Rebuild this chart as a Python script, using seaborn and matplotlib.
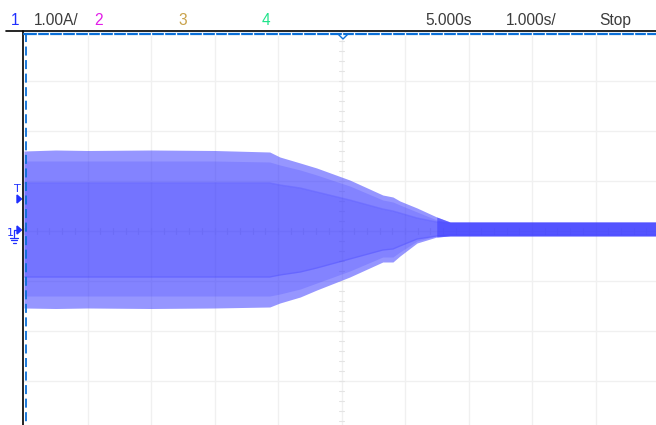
import matplotlib
matplotlib.use("Agg")
import matplotlib.pyplot as plt
from matplotlib.lines import Line2D
from matplotlib.patches import Polygon
import numpy as np
import pandas as pd
import seaborn as sns

# Channel 1 current envelope (A) vs time (s), 1.00 A/div, 1.000 s/div
time_s = [0.00, 0.50, 1.00, 2.00, 3.00, 3.87, 4.03, 4.35, 4.61, 5.13, 5.65, 5.81, 5.92, 6.19, 6.50, 6.71, 7.50, 8.50, 10.0]
outer_hi = [1.60, 1.62, 1.61, 1.62, 1.61, 1.58, 1.48, 1.36, 1.26, 1.02, 0.72, 0.68, 0.60, 0.46, 0.28, 0.18, 0.18, 0.18, 0.18]
outer_lo = [-1.54, -1.55, -1.54, -1.55, -1.54, -1.52, -1.44, -1.32, -1.18, -0.92, -0.62, -0.62, -0.50, -0.24, -0.12, -0.10, -0.10, -0.10, -0.10]
mid_hi = [1.40, 1.40, 1.40, 1.40, 1.40, 1.38, 1.32, 1.22, 1.12, 0.90, 0.62, 0.58, 0.52, 0.38, 0.22, 0.17, 0.17, 0.17, 0.17]
mid_lo = [-1.30, -1.30, -1.30, -1.30, -1.30, -1.30, -1.26, -1.16, -1.04, -0.80, -0.52, -0.52, -0.42, -0.20, -0.10, -0.09, -0.09, -0.09, -0.09]
inner_hi = [0.96, 0.96, 0.96, 0.96, 0.96, 0.96, 0.92, 0.86, 0.78, 0.62, 0.44, 0.40, 0.36, 0.26, 0.18, 0.16, 0.16, 0.16, 0.16]
inner_lo = [-0.92, -0.92, -0.92, -0.92, -0.92, -0.92, -0.88, -0.82, -0.74, -0.56, -0.38, -0.36, -0.30, -0.16, -0.10, -0.08, -0.08, -0.08, -0.08]

# On-screen readouts
ch_labels = ["1", "2", "3", "4"]
ch_colors = ["#1f2fff", "#e21ee8", "#c9a24a", "#1ee38a"]
scale_label = "1.00A/"
delay_label = "5.000s"
timebase_label = "1.000s/"
run_state = "Stop"

W, H = 656, 425
sns.set_style("white")
plt.rcParams["font.family"] = ["Liberation Sans", "DejaVu Sans"]

fig = plt.figure(figsize=(W / 100, H / 100), dpi=100)
fig.patch.set_facecolor("white")


def fx(px):
    return px / W


def fy(py):
    return 1 - py / H


# Screen: 10 x 8 divisions, centre line at y = 231 px
left_px, top_px, div_w, div_h = 24, 31, 63.5, 50
ax = fig.add_axes([fx(left_px), fy(top_px + 8 * div_h), 10 * div_w / W, 8 * div_h / H])

# Graticule
for k in range(1, 10):
    ax.axvline(k, color="#f0f0f0", lw=1, zorder=0)
for k in range(-3, 4):
    ax.axhline(k, color="#f0f0f0", lw=1, zorder=0)
# Centre-line minor ticks
for v in np.arange(-4, 4.01, 0.2):
    ax.plot([4.955, 5.045], [v, v], color="#e4e4e4", lw=0.8, zorder=0)
for t in np.arange(0, 10.01, 0.2):
    ax.plot([t, t], [-0.06, 0.06], color="#e4e4e4", lw=0.8, zorder=0)

# Waveform envelopes, layered
df = pd.DataFrame({"t": time_s, "hi": outer_hi, "lo": outer_lo,
                   "mhi": mid_hi, "mlo": mid_lo, "ihi": inner_hi, "ilo": inner_lo})
wave = "#4040ff"
ax.fill_between(df["t"], df["lo"], df["hi"], color=wave, alpha=0.55, lw=0, zorder=2)
ax.fill_between(df["t"], df["mlo"], df["mhi"], color=wave, alpha=0.22, lw=0, zorder=3)
ax.fill_between(df["t"], df["ilo"], df["ihi"], color=wave, alpha=0.22, lw=0, zorder=4)
tail = df[df["t"] >= 6.50]
ax.fill_between(tail["t"], tail["lo"], tail["hi"], color=wave, alpha=0.6, lw=0, zorder=5)
sns.lineplot(data=df, x="t", y="ihi", ax=ax, color=wave, alpha=0.25, lw=1, zorder=6)
sns.lineplot(data=df, x="t", y="ilo", ax=ax, color=wave, alpha=0.25, lw=1, zorder=6)
ax.set_xlim(0, 10)
ax.set_ylim(-4, 4)
ax.axis("off")

# Frame lines around the screen
blue = "#0a6fd8"
fig.add_artist(Line2D([fx(6), fx(W)], [fy(31), fy(31)], color="black", lw=1.2, transform=fig.transFigure))
fig.add_artist(Line2D([fx(23), fx(23)], [fy(31), fy(H)], color="black", lw=1.2, transform=fig.transFigure))
fig.add_artist(Line2D([fx(24), fx(W)], [fy(33.5), fy(33.5)], color=blue, lw=1.6, transform=fig.transFigure))
for k in range(1, 50):
    xp = left_px + k * div_w / 5
    fig.add_artist(Line2D([fx(xp), fx(xp)], [fy(32.5), fy(34.5)], color="white", lw=1.0, transform=fig.transFigure))
fig.add_artist(Line2D([fx(25.5), fx(25.5)], [fy(33), fy(H)], color=blue, lw=1.3,
                      linestyle=(0, (5, 2.5)), transform=fig.transFigure))

# Trigger position marker
fig.add_artist(Polygon([[fx(338), fy(34)], [fx(348), fy(34)], [fx(343), fy(39)]], closed=True,
                       facecolor="white", edgecolor=blue, lw=1.0, transform=fig.transFigure))

# Trigger level and channel ground markers
mk = "#1f2fff"
fig.text(fx(17), fy(192), "T", color=mk, fontsize=8, ha="center", va="baseline", family="DejaVu Sans")
fig.add_artist(Polygon([[fx(17), fy(195)], [fx(17), fy(203)], [fx(21.5), fy(199)]], closed=True,
                       color=mk, transform=fig.transFigure))
fig.text(fx(10), fy(236), "1", color=mk, fontsize=8, ha="center", va="baseline", family="DejaVu Sans")
fig.add_artist(Polygon([[fx(17), fy(226)], [fx(17), fy(234)], [fx(21.5), fy(230)]], closed=True,
                       color=mk, transform=fig.transFigure))
fig.add_artist(Line2D([fx(14), fx(14), fx(17)], [fy(237), fy(230), fy(230)], color=mk, lw=0.9,
                      transform=fig.transFigure))
for yy, half in [(237.5, 4), (240, 2.8), (242.5, 1.5)]:
    fig.add_artist(Line2D([fx(14 - half), fx(14 + half)], [fy(yy), fy(yy)], color=mk, lw=0.9,
                          transform=fig.transFigure))

# Status bar readouts
fs = 11.2
base = 25
fig.text(fx(11), fy(base), ch_labels[0], color=ch_colors[0], fontsize=fs, va="baseline")
fig.text(fx(34), fy(base), scale_label, color="#3c3c3c", fontsize=fs, va="baseline")
fig.text(fx(94), fy(base), ch_labels[1], color=ch_colors[1], fontsize=fs, va="baseline")
fig.text(fx(178), fy(base), ch_labels[2], color=ch_colors[2], fontsize=fs, va="baseline")
fig.text(fx(262), fy(base), ch_labels[3], color=ch_colors[3], fontsize=fs, va="baseline")
fig.text(fx(425), fy(base), delay_label, color="#3c3c3c", fontsize=fs, va="baseline")
fig.text(fx(506), fy(base), timebase_label, color="#3c3c3c", fontsize=fs, va="baseline")
fig.text(fx(599), fy(base), run_state, color="#3c3c3c", fontsize=fs, va="baseline")

fig.savefig("out.png", dpi=100, facecolor="white")
